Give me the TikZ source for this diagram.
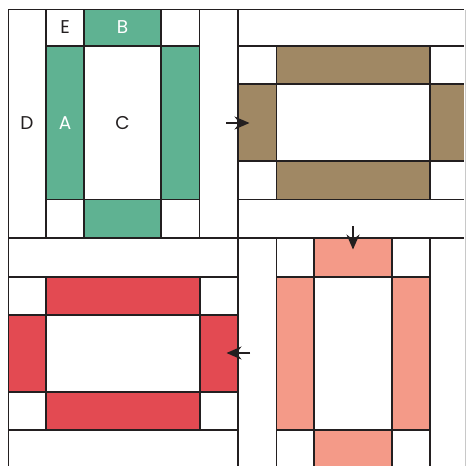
\documentclass[tikz,border=0pt]{standalone}
\usepackage{fontspec}
\setmainfont{Poppins}
\usetikzlibrary{arrows.meta}
\definecolor{qgreen}{RGB}{95,178,146}
\definecolor{qbrown}{RGB}{160,136,100}
\definecolor{qred}{RGB}{227,74,82}
\definecolor{qsalmon}{RGB}{244,154,136}
\definecolor{qline}{RGB}{35,31,32}
\definecolor{qedge}{RGB}{200,200,200}
\begin{document}
\begin{tikzpicture}[x=1pt,y=-1pt,
  cell/.style={draw=qline,line width=1.8pt},
  wcell/.style={cell,fill=white},
  lbl/.style={font=\fontsize{18.5}{18.5}\selectfont,text=qline,inner sep=0pt},
  wlbl/.style={lbl,text=white},
  flow/.style={line width=1.8pt,draw=qline,-{Stealth[length=15pt,width=13pt,inset=5pt]}}]
\useasboundingbox (0,0) rectangle (466,466);
\clip (0,0) rectangle (466,466);
\fill[white] (0,0) rectangle (466,466);
% ---- top-left block (green)
\filldraw[wcell] (8.5,9.5) rectangle (45.7,238);
\filldraw[wcell] (199.5,9.5) rectangle (238,238);
\filldraw[wcell] (45.7,9.5) rectangle (84,45.8);
\filldraw[wcell] (161,9.5) rectangle (199.5,45.8);
\filldraw[wcell] (45.7,199.4) rectangle (84,238);
\filldraw[wcell] (161,199.4) rectangle (199.5,238);
\filldraw[wcell] (84,45.8) rectangle (161,199.4);
\filldraw[cell,fill=qgreen] (84,9.5) rectangle (161,45.8);
\filldraw[cell,fill=qgreen] (84,199.4) rectangle (161,238);
\filldraw[cell,fill=qgreen] (45.7,45.8) rectangle (84,199.4);
\filldraw[cell,fill=qgreen] (161,45.8) rectangle (199.5,199.4);
% ---- top-right block (brown)
\filldraw[wcell] (238,9.5) rectangle (465,45.8);
\filldraw[wcell] (238,199.4) rectangle (465,238);
\filldraw[wcell] (238,45.8) rectangle (276.5,84.3);
\filldraw[wcell] (430,45.8) rectangle (465,84.3);
\filldraw[wcell] (238,161) rectangle (276.5,199.4);
\filldraw[wcell] (430,161) rectangle (465,199.4);
\filldraw[wcell] (276.5,84.3) rectangle (430,161);
\filldraw[cell,fill=qbrown] (276.5,45.8) rectangle (430,84.3);
\filldraw[cell,fill=qbrown] (276.5,161) rectangle (430,199.4);
\filldraw[cell,fill=qbrown] (238,84.3) rectangle (276.5,161);
\filldraw[cell,fill=qbrown] (430,84.3) rectangle (465,161);
% ---- bottom-left block (red)
\filldraw[wcell] (8.5,238) rectangle (238,276.7);
\filldraw[wcell] (8.5,430) rectangle (238,472);
\filldraw[wcell] (8.5,276.7) rectangle (45.7,315);
\filldraw[wcell] (200,276.7) rectangle (238,315);
\filldraw[wcell] (8.5,391.7) rectangle (45.7,430);
\filldraw[wcell] (200,391.7) rectangle (238,430);
\filldraw[wcell] (45.7,315) rectangle (200,391.7);
\filldraw[cell,fill=qred] (45.7,276.7) rectangle (200,315);
\filldraw[cell,fill=qred] (45.7,391.7) rectangle (200,430);
\filldraw[cell,fill=qred] (8.5,315) rectangle (45.7,391.7);
\filldraw[cell,fill=qred] (200,315) rectangle (238,391.7);
% ---- bottom-right block (salmon)
\filldraw[wcell] (238,238) rectangle (276.5,472);
\filldraw[wcell] (430,238) rectangle (465,472);
\filldraw[wcell] (276.5,238) rectangle (314.3,276.7);
\filldraw[wcell] (391.7,238) rectangle (430,276.7);
\filldraw[wcell] (276.5,430) rectangle (314.3,472);
\filldraw[wcell] (391.7,430) rectangle (430,472);
\filldraw[wcell] (314.3,276.7) rectangle (391.7,430);
\filldraw[cell,fill=qsalmon] (314.3,238) rectangle (391.7,276.7);
\filldraw[cell,fill=qsalmon] (314.3,430) rectangle (391.7,472);
\filldraw[cell,fill=qsalmon] (276.5,276.7) rectangle (314.3,430);
\filldraw[cell,fill=qsalmon] (391.7,276.7) rectangle (430,430);
% ---- right edge (light)
\fill[white] (464.1,0) rectangle (466,466);
\fill[white] (430.9,0) rectangle (466,8.5);
\draw[qedge,line width=0.9pt] (465,9.5) -- (465,466);
% ---- labels
\node[lbl]  (E) at (65,27) {E};
\node[wlbl] (B) at (122.5,27) {B};
\node[lbl]  (D) at (27,123) {D};
\node[wlbl] (A) at (65,123) {A};
\node[lbl]  (C) at (122.5,123) {C};
% ---- arrows
\coordinate (r1) at (226,123);  \coordinate (r2) at (249.5,123);
\coordinate (d1) at (353,226);  \coordinate (d2) at (353,249.5);
\coordinate (l1) at (250,353);  \coordinate (l2) at (226.5,353);
\draw[flow] (r1) -- (r2);
\draw[flow] (d1) -- (d2);
\draw[flow] (l1) -- (l2);
\end{tikzpicture}
\end{document}
